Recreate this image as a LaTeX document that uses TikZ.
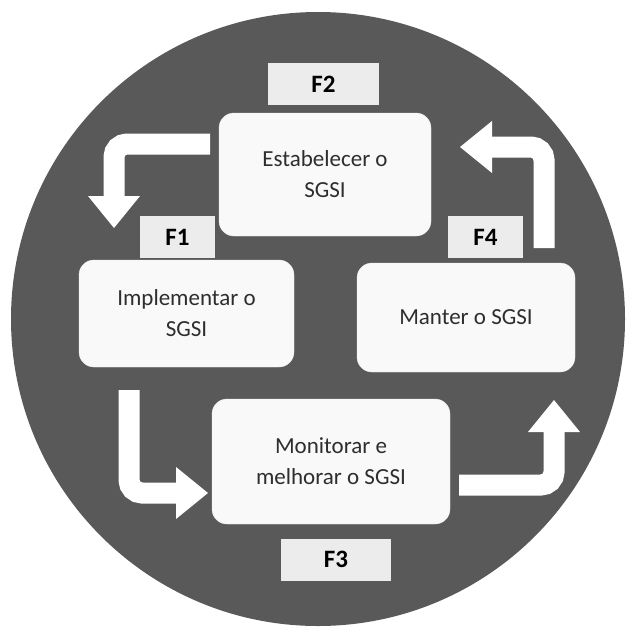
\documentclass[tikz,border=0pt]{standalone}
\usepackage{fontspec}
\setmainfont{Carlito}
\usetikzlibrary{arrows.meta}
\definecolor{disc}{HTML}{595959}
\definecolor{boxfill}{HTML}{F9F9F9}
\definecolor{tagfill}{HTML}{ECECEC}
\definecolor{boxtext}{HTML}{2E2E2E}
\begin{document}
\begin{tikzpicture}[x=1pt,y=-1pt,
  phase/.style={rectangle, rounded corners=15pt, fill=boxfill, draw=white!85!gray, text=boxtext, align=center, inner sep=0pt, font=\fontsize{23}{31}\selectfont},
  tag/.style={rectangle, fill=tagfill, minimum height=42pt, inner sep=0pt, font=\bfseries\fontsize{25}{30}\selectfont},
  flow/.style={white, line width=21pt, rounded corners=13pt, -{Triangle[width=52pt,length=32pt,line width=0pt]}}]
\useasboundingbox (0,0) rectangle (631,626);
\fill[disc] (318,319) circle (307pt);
\node[tag, minimum width=111pt] (f2) at (323.5,84) {F2};
\node[tag, minimum width=75pt] (f1) at (177.5,237) {F1};
\node[tag, minimum width=75pt] (f4) at (485.5,237) {F4};
\node[tag, minimum width=110pt] (f3) at (336,559.5) {F3};
\node[phase, minimum width=212pt, minimum height=123pt] (est) at (325,174.5) {Estabelecer o\\SGSI};
\node[phase, minimum width=215pt, minimum height=107pt] (imp) at (186.5,313.5) {Implementar o\\SGSI};
\node[phase, minimum width=218pt, minimum height=109pt] (man) at (466,317.5) {Manter o SGSI};
\node[phase, minimum width=238pt, minimum height=125pt] (mon) at (331,461.5) {Monitorar e\\melhorar o SGSI};
\coordinate (s1) at (210,144); \coordinate (t1) at (114,228);
\coordinate (s2) at (544,248); \coordinate (t2) at (460,147);
\coordinate (s3) at (129,390); \coordinate (t3) at (208,493);
\coordinate (s4) at (459,485); \coordinate (t4) at (554,400);
\draw[flow] (s1) -| (t1);
\draw[flow] (s2) |- (t2);
\draw[flow] (s3) |- (t3);
\draw[flow] (s4) -| (t4);
\end{tikzpicture}
\end{document}
